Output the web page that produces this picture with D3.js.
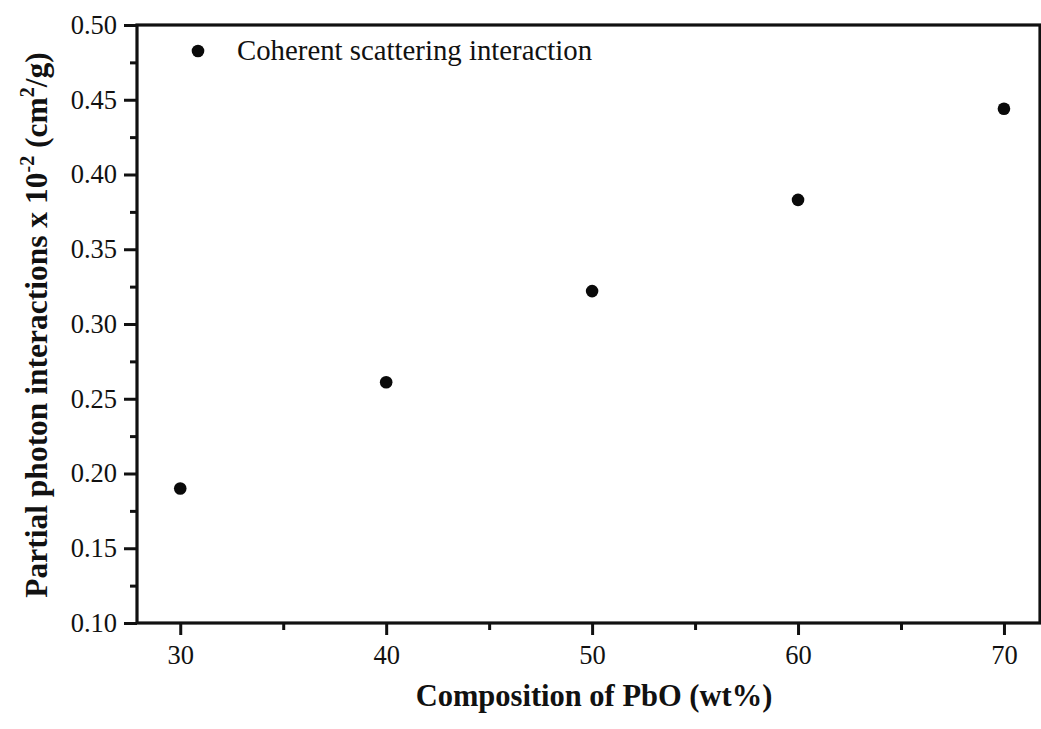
<!DOCTYPE html>
<html>
<head>
<meta charset="utf-8">
<script src="https://cdn.jsdelivr.net/npm/d3@7"></script>
<style>
  html, body { margin: 0; padding: 0; background: #fff; }
  svg { display: block; }
  text { font-family: "Liberation Serif", "Times New Roman", serif; fill: #111; }
</style>
</head>
<body>
<svg id="chart" width="1041" height="729"></svg>
<script>
// PbO content of the glass samples (wt%)
const composition = [30, 40, 50, 60, 70];
// Partial photon interaction (coherent scattering), x 10^-2 cm^2/g
const coherent = [0.190, 0.261, 0.322, 0.383, 0.444];
const seriesName = "Coherent scattering interaction";

const xMajorTicks = [30, 40, 50, 60, 70];
const xMinorTicks = [35, 45, 55, 65];
const yMajorTicks = [0.10, 0.15, 0.20, 0.25, 0.30, 0.35, 0.40, 0.45, 0.50];
const yMinorTicks = [0.125, 0.175, 0.225, 0.275, 0.325, 0.375, 0.425, 0.475];

const svg = d3.select("#chart");
const plot = { left: 137, right: 1040, top: 25, bottom: 623 };

const x = d3.scaleLinear().domain([27.9, 71.75]).range([plot.left, plot.right]);
const y = d3.scaleLinear().domain([0.10, 0.50]).range([plot.bottom, plot.top]);

// frame
svg.append("rect")
  .attr("x", plot.left).attr("y", plot.top)
  .attr("width", plot.right - plot.left).attr("height", plot.bottom - plot.top)
  .attr("fill", "none").attr("stroke", "#111").attr("stroke-width", 3.2);

// x axis: major ticks with labels, then minor ticks
const xAxis = svg.append("g").attr("transform", `translate(0,${plot.bottom})`)
  .call(d3.axisBottom(x).tickValues(xMajorTicks).tickSize(12).tickPadding(10)
    .tickFormat(d3.format("d")));
xAxis.select(".domain").remove();
xAxis.selectAll("line").attr("stroke", "#111").attr("stroke-width", 3);
xAxis.selectAll("text").style("font-size", "26.5px").attr("fill", "#111")
  .style("font-family", "'Liberation Serif', serif");

const xMinor = svg.append("g").attr("transform", `translate(0,${plot.bottom})`)
  .call(d3.axisBottom(x).tickValues(xMinorTicks).tickSize(7).tickFormat(""));
xMinor.select(".domain").remove();
xMinor.selectAll("line").attr("stroke", "#111").attr("stroke-width", 3);

// y axis
const yAxis = svg.append("g").attr("transform", `translate(${plot.left},0)`)
  .call(d3.axisLeft(y).tickValues(yMajorTicks).tickSize(13).tickPadding(7)
    .tickFormat(d3.format(".2f")));
yAxis.select(".domain").remove();
yAxis.selectAll("line").attr("stroke", "#111").attr("stroke-width", 3);
yAxis.selectAll("text").style("font-size", "26.5px").attr("fill", "#111")
  .style("font-family", "'Liberation Serif', serif");

const yMinor = svg.append("g").attr("transform", `translate(${plot.left},0)`)
  .call(d3.axisLeft(y).tickValues(yMinorTicks).tickSize(7).tickFormat(""));
yMinor.select(".domain").remove();
yMinor.selectAll("line").attr("stroke", "#111").attr("stroke-width", 3);

// data points
svg.append("g").selectAll("circle")
  .data(composition.map((c, i) => ({ c, v: coherent[i] })))
  .join("circle")
  .attr("cx", d => x(d.c))
  .attr("cy", d => y(d.v))
  .attr("r", 6.3)
  .attr("fill", "#0a0a0a");

// legend
svg.append("circle").attr("cx", 198).attr("cy", 51).attr("r", 6.3).attr("fill", "#0a0a0a");
svg.append("text").attr("x", 237).attr("y", 60)
  .style("font-size", "28.8px").text(seriesName);

// axis titles
svg.append("text")
  .attr("x", 594).attr("y", 706)
  .attr("text-anchor", "middle")
  .style("font-size", "30.5px").style("font-weight", "bold")
  .text("Composition of PbO (wt%)");

const yTitle = svg.append("text")
  .attr("transform", "translate(47,325) rotate(-90)")
  .attr("text-anchor", "middle")
  .style("font-size", "31.5px").style("font-weight", "bold");
yTitle.append("tspan").text("Partial photon interactions x 10");
yTitle.append("tspan").attr("dy", -13).style("font-size", "20px").text("-2");
yTitle.append("tspan").attr("dy", 13).text(" (cm");
yTitle.append("tspan").attr("dy", -13).style("font-size", "20px").text("2");
yTitle.append("tspan").attr("dy", 13).text("/g)");
</script>
</body>
</html>
